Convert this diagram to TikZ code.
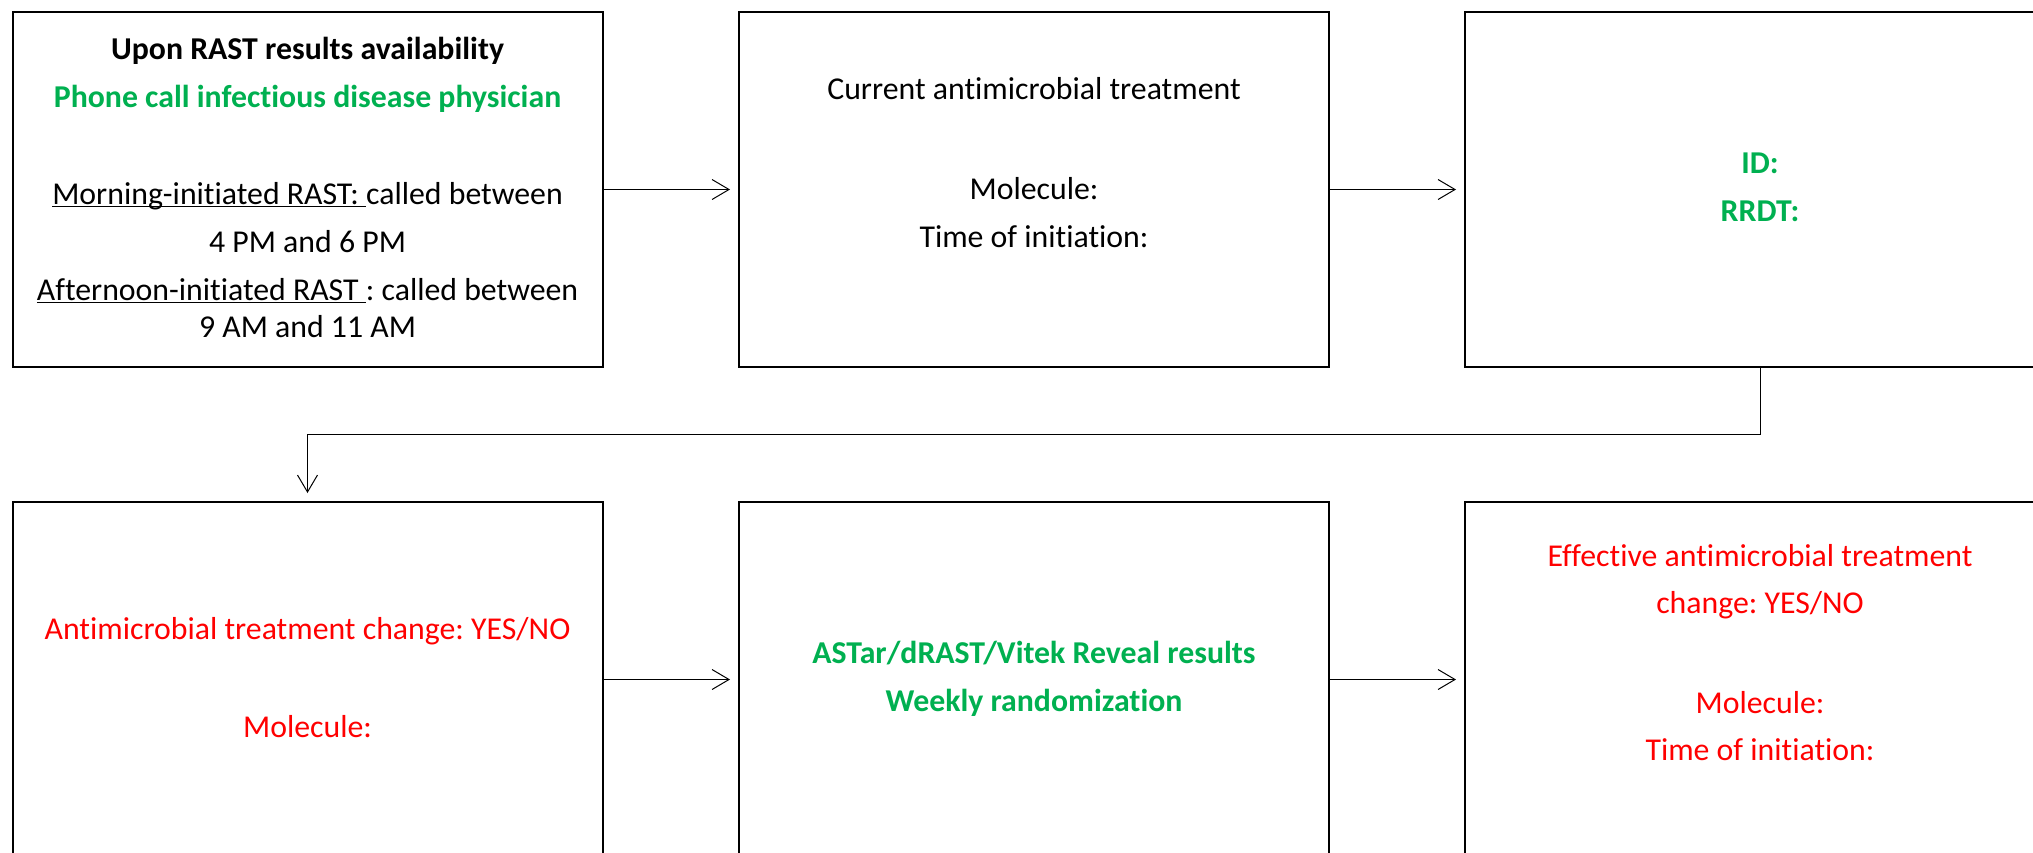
\documentclass[tikz,border=0pt]{standalone}
\usepackage{fontspec}
\setmainfont[Ligatures=CommonOff]{Carlito}
\usepackage{tikz}
\usetikzlibrary{arrows.meta, positioning}
\definecolor{okgreen}{RGB}{0,176,80}
\definecolor{alertred}{RGB}{255,0,0}
\newcommand{\ulpart}[1]{\underline{\smash{#1}}}
\frenchspacing
\tikzstyle{panel}=[draw=black,line width=1pt,minimum width=295pt,minimum height=177.5pt,inner sep=0pt]
\tikzstyle{flow}=[-{Straight Barb[length=8.5pt,width=10pt]},line width=0.5pt,shorten >=4pt]
\tikzstyle{txt}=[anchor=base,inner sep=0pt,font=\fontsize{15.9}{19}\selectfont]
\tikzstyle{txtb}=[txt,font=\fontsize{15.9}{19}\selectfont\bfseries]

\begin{document}
\begin{tikzpicture}[x=0.5pt,y=-0.5pt]
\clip (0,0) rectangle (2033,852);
%\draw[step=100,gray,very thin] (0,0) grid (2033,852);
\node[panel] (rast) at (307.5,189.5){};
\node[panel] (current) at (1034,189.5){};
\node[panel] (ident) at (1760,189.5){};
\node[panel] (change) at (307.5,679.5){};
\node[panel] (reveal) at (1034,679.5){};
\node[panel] (effective) at (1760,679.5){};

\draw[flow] (rast.east) -- (current.west);
\draw[flow] (current.east) -- (ident.west);
\draw[flow] (ident.south) -- ++(0,66) -| (change.north);
\draw[flow] (change.east) -- (reveal.west);
\draw[flow] (reveal.east) -- (effective.west);

% first box
\node[txtb] (upon) at (307.5,59){Upon RAST results availability};
\node[txtb,text=okgreen] (phone) at (307.5,107){Phone call infectious disease physician};
\node[txt] (morning) at (307.5,204){\ulpart{Morning-initiated RAST: }called between};
\node[txt] (pm) at (307.5,252){4 PM and 6 PM};
\node[txt] (afternoon) at (307.5,300){\ulpart{Afternoon-initiated RAST }: called between};
\node[txt] (am) at (307.5,337){9 AM and 11 AM};

% current treatment
\node[txt] (curtitle) at (1034,99){Current antimicrobial treatment};
\node[txt] (curmol) at (1034,199){Molecule:};
\node[txt] (curtime) at (1034,247){Time of initiation:};

% identification
\node[txtb,text=okgreen] (id) at (1760,173){ID:};
\node[txtb,text=okgreen] (rrdt) at (1760,221){RRDT:};

% treatment change
\node[txt,text=alertred] (chtitle) at (307.5,639){Antimicrobial treatment change: YES/NO};
\node[txt,text=alertred] (chmol) at (307.5,737){Molecule:};

% results
\node[txtb,text=okgreen] (astar) at (1034,663){ASTar/dRAST/Vitek Reveal results};
\node[txtb,text=okgreen] (weekly) at (1034,711){Weekly randomization};

% effective change
\node[txt,text=alertred] (efftitle) at (1760,566){Effective antimicrobial treatment};
\node[txt,text=alertred] (effyes) at (1760,613){change: YES/NO};
\node[txt,text=alertred] (effmol) at (1760,713){Molecule:};
\node[txt,text=alertred] (efftime) at (1760,760){Time of initiation:};
\end{tikzpicture}
\end{document}
